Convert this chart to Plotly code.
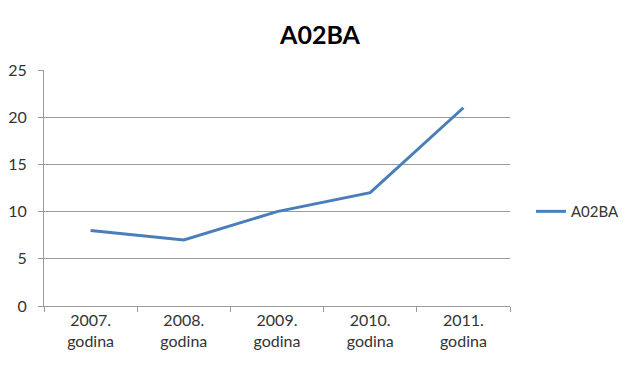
import plotly.graph_objects as go

categories = ["2007.<br>godina", "2008.<br>godina", "2009.<br>godina", "2010.<br>godina", "2011.<br>godina"]
values = [8, 7, 10, 12, 21]
series_name = "A02BA"
y_ticks = [0, 5, 10, 15, 20, 25]

fig = go.Figure()
fig.add_trace(go.Scatter(
    x=categories, y=values, mode="lines", name=series_name,
    line=dict(color="#4A7EBB", width=3),
))

font_family = "Lato, 'Open Sans', sans-serif"
fig.update_layout(
    width=631, height=360,
    margin=dict(l=36, r=129, t=62, b=62, autoexpand=False),
    paper_bgcolor="white", plot_bgcolor="white",
    title=dict(text="<b>A02BA</b>", x=0.4945, xanchor="center", y=0.925, yanchor="middle",
               font=dict(family=font_family, size=25, color="#000000")),
    showlegend=True,
    legend=dict(x=1.045, y=0.40, xanchor="left", yanchor="middle",
                font=dict(family=font_family, size=15, color="#333333"),
                bgcolor="rgba(0,0,0,0)"),
    font=dict(family=font_family, size=15, color="#333333"),
)
fig.update_xaxes(
    type="category", range=[-0.5, 4.5], automargin=False,
    showline=True, linecolor="#9A9A9A", linewidth=1,
    ticks="outside", tickson="boundaries", ticklen=5, tickcolor="#9A9A9A",
    showgrid=False, tickfont=dict(size=16, color="#333333"),
)
fig.update_yaxes(
    range=[0, 25], tickvals=y_ticks, automargin=False,
    showline=True, linecolor="#9A9A9A", linewidth=1,
    ticks="outside", ticklen=5, tickcolor="#9A9A9A",
    showgrid=True, gridcolor="#9A9A9A", gridwidth=1,
    zeroline=False, tickfont=dict(size=16, color="#333333"),
    ticklabelstandoff=8,
)
fig.write_html("out.html")
